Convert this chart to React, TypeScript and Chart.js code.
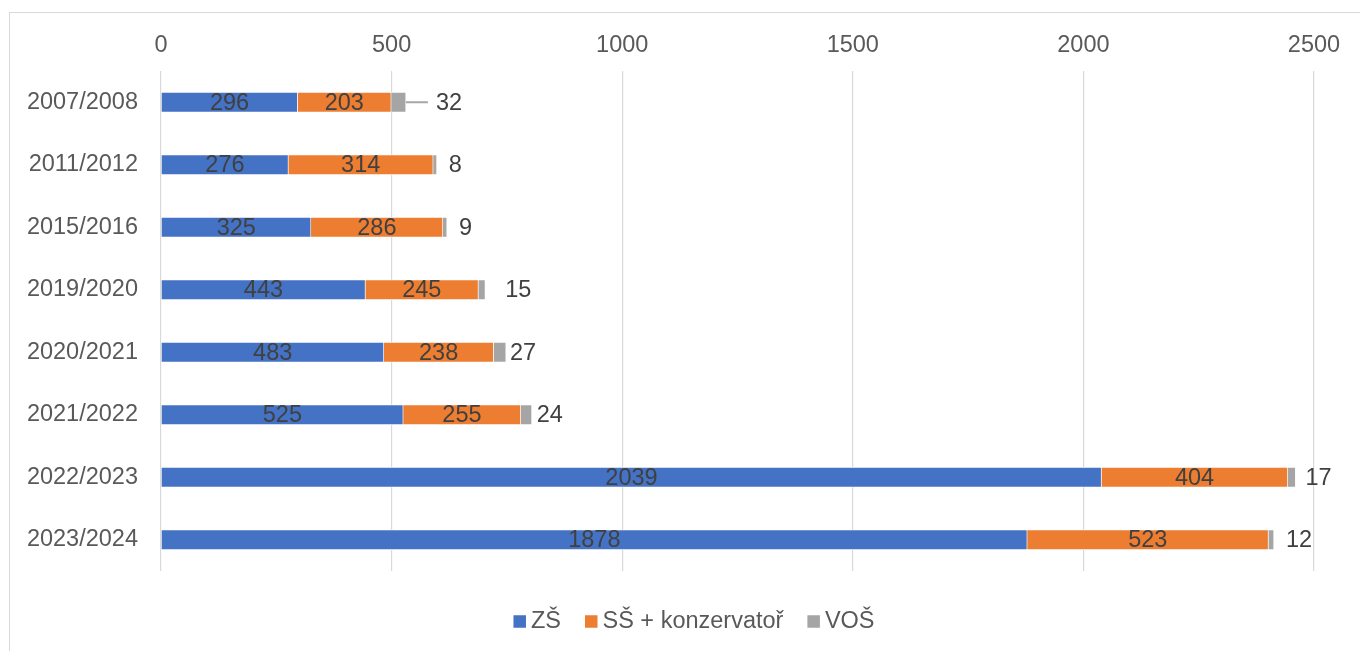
import React, { useEffect, useRef } from "react";
import { Chart, registerables } from "chart.js";

Chart.register(...registerables);

const categories = [
  "2007/2008",
  "2011/2012",
  "2015/2016",
  "2019/2020",
  "2020/2021",
  "2021/2022",
  "2022/2023",
  "2023/2024",
];
const zsValues = [296, 276, 325, 443, 483, 525, 2039, 1878];
const ssValues = [203, 314, 286, 245, 238, 255, 404, 523];
const vosValues = [32, 8, 9, 15, 27, 24, 17, 12];
const seriesNames = ["ZŠ", "SŠ + konzervatoř", "VOŠ"];
const seriesColors = ["#4472C4", "#ED7D31", "#A5A5A5"];
const xMin = 0;
const xMax = 2500;
const xStep = 500;

// gap (px) between end of stack and outside VOŠ label; first one uses a leader line
const outsideLabelGaps = [30, 12, 12, 20, 4, 5, 10, 12];

const FONT = '"Liberation Sans", Arial, sans-serif';
const FS = 23.5;

const labelPlugin = {
  id: "barLabels",
  afterDatasetsDraw(chart: any) {
    const ctx = chart.ctx;
    ctx.save();
    ctx.font = `${FS}px ${FONT}`;
    ctx.textBaseline = "middle";
    chart.data.datasets.forEach((ds: any, di: number) => {
      const meta = chart.getDatasetMeta(di);
      meta.data.forEach((el: any, i: number) => {
        const v = ds.data[i];
        const { x, y, base } = el.getProps(["x", "y", "base"], true);
        if (di < 2) {
          ctx.fillStyle = "#404040";
          ctx.textAlign = "center";
          ctx.fillText(String(v), (x + base) / 2, y + 1);
        } else {
          const gap = outsideLabelGaps[i];
          if (i === 0) {
            ctx.strokeStyle = "#A6A6A6";
            ctx.lineWidth = 2;
            ctx.beginPath();
            ctx.moveTo(x, y);
            ctx.lineTo(x + gap - 8, y);
            ctx.stroke();
          }
          ctx.fillStyle = "#404040";
          ctx.textAlign = "left";
          ctx.fillText(String(v), x + gap, y + 1);
        }
      });
    });
    ctx.restore();
  },
};

const legendPlugin = {
  id: "customLegend",
  afterDraw(chart: any) {
    const ctx = chart.ctx;
    ctx.save();
    ctx.font = `${FS}px ${FONT}`;
    ctx.textBaseline = "middle";
    ctx.textAlign = "left";
    const box = 12.5;
    const boxGap = 5;
    const itemGap = 24;
    const widths = seriesNames.map((n) => box + boxGap + ctx.measureText(n).width);
    const total = widths.reduce((a, b) => a + b, 0) + itemGap * (seriesNames.length - 1);
    let x = chart.width / 2 + 9 - total / 2;
    const cy = 608.5;
    seriesNames.forEach((n, i) => {
      ctx.fillStyle = seriesColors[i];
      ctx.fillRect(x, cy - box / 2, box, box);
      ctx.fillStyle = "#595959";
      ctx.fillText(n, x + box + boxGap, cy);
      x += widths[i] + itemGap;
    });
    ctx.restore();
  },
};

export default function App() {
  const canvasRef = useRef<HTMLCanvasElement | null>(null);

  useEffect(() => {
    const canvas = canvasRef.current;
    if (!canvas) return;
    const values = [zsValues, ssValues, vosValues];
    const chart = new Chart(canvas, {
      type: "bar",
      data: {
        labels: categories,
        datasets: seriesNames.map((name, i) => ({
          label: name,
          data: values[i],
          backgroundColor: seriesColors[i],
          borderColor: "#FFFFFF",
          borderWidth: 0.8,
          barThickness: 20,
        })),
      },
      options: {
        indexAxis: "y",
        responsive: false,
        animation: false,
        layout: { padding: { top: 0, left: 0, right: 46, bottom: 80 } },
        plugins: {
          legend: { display: false },
          tooltip: { enabled: false },
        },
        scales: {
          x: {
            position: "top",
            stacked: true,
            min: xMin,
            max: xMax,
            ticks: {
              stepSize: xStep,
              padding: 11,
              color: "#595959",
              font: { family: FONT, size: FS },
              callback: (v: any) => String(v),
            },
            grid: { color: "#D9D9D9", lineWidth: 1.2, drawTicks: false },
            border: { display: false },
            afterFit: (s: any) => {
              s.height = 58;
            },
          },
          y: {
            stacked: true,
            ticks: {
              padding: 23,
              color: "#595959",
              font: { family: FONT, size: FS },
            },
            grid: { display: false, drawTicks: false },
            border: { display: false },
            afterFit: (s: any) => {
              s.width = 151;
            },
          },
        },
      },
      plugins: [labelPlugin, legendPlugin],
    } as any);
    return () => chart.destroy();
  }, []);

  return (
    <div
      style={{
        position: "fixed",
        left: 9,
        top: 12,
        right: 0,
        bottom: 0,
        borderTop: "1px solid #D9D9D9",
        borderLeft: "1px solid #D9D9D9",
        background: "#FFFFFF",
        overflow: "hidden",
      }}
    >
      <canvas ref={canvasRef} width={1350} height={638} style={{ display: "block" }} />
    </div>
  );
}
